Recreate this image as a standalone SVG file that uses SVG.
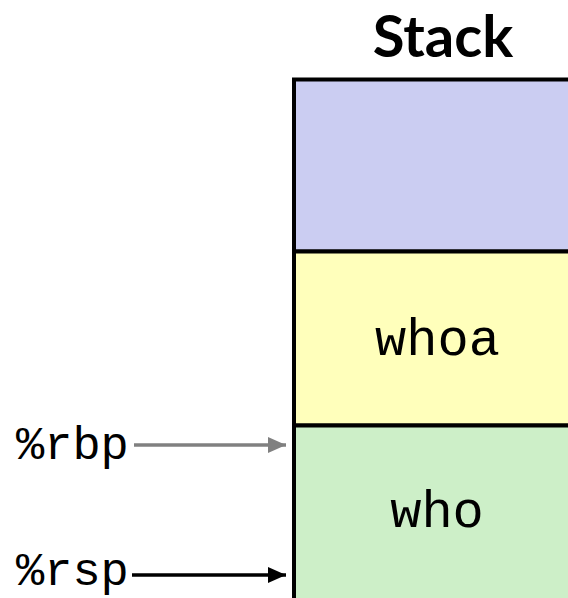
<svg xmlns="http://www.w3.org/2000/svg" width="568" height="598" viewBox="0 0 568 598">
  <defs>
    <style>
      .cell { stroke: #000; stroke-width: 4; }
      .mono { font-family: "Liberation Mono", "Courier New", monospace; fill: #000; }
      .title { font-family: Lato, "Liberation Sans", sans-serif; font-weight: bold; font-size: 58px; fill: #000; }
    </style>
    <marker id="ahGray" markerWidth="5" markerHeight="4.4" refX="5" refY="2.2" orient="auto" markerUnits="strokeWidth">
      <path d="M0,0 L5,2.2 L0,4.4 Z" fill="#808080"/>
    </marker>
    <marker id="ahBlack" markerWidth="5" markerHeight="4.4" refX="5" refY="2.2" orient="auto" markerUnits="strokeWidth">
      <path d="M0,0 L5,2.2 L0,4.4 Z" fill="#000"/>
    </marker>
  </defs>
  <rect width="568" height="598" fill="#fff"/>
  <g id="title">
    <text class="title" x="443" y="57" text-anchor="middle">Stack</text>
  </g>
  <g id="cell-top">
    <rect class="cell" x="294" y="79.5" width="300" height="172" fill="#CBCDF2"/>
  </g>
  <g id="cell-whoa">
    <rect class="cell" x="294" y="251.5" width="300" height="174" fill="#FFFFBB"/>
    <text class="mono" x="437.5" y="355" font-size="52" text-anchor="middle">whoa</text>
  </g>
  <g id="cell-who">
    <rect class="cell" x="294" y="425.5" width="300" height="190" fill="#CDEFC8"/>
    <text class="mono" x="437" y="527" font-size="52" text-anchor="middle">who</text>
  </g>
  <g id="label-rbp">
    <text class="mono" x="16" y="459" font-size="47">%rbp</text>
  </g>
  <g id="label-rsp">
    <text class="mono" x="16" y="585" font-size="47">%rsp</text>
  </g>
  <g id="connectors">
    <line x1="134" y1="445" x2="286" y2="445" stroke="#808080" stroke-width="3.6" marker-end="url(#ahGray)"/>
    <line x1="132" y1="575" x2="286" y2="575" stroke="#000" stroke-width="3.6" marker-end="url(#ahBlack)"/>
  </g>
</svg>
